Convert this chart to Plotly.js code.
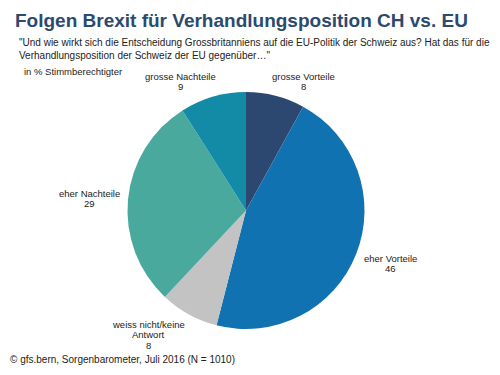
<!DOCTYPE html>
<html><head><meta charset="utf-8">
<script src="https://cdn.plot.ly/plotly-3.0.1.min.js"></script>
<style>html,body{margin:0;padding:0;background:#fff}#c{width:500px;height:375px}</style>
</head><body><div id="c"></div>
<script>
const categories = ["grosse Vorteile", "eher Vorteile", "weiss nicht/keine<br>Antwort", "eher Nachteile", "grosse Nachteile"];
const values = [8, 46, 8, 29, 9];
const colors = ["#2c4770", "#1072b0", "#c3c3c3", "#4aa99d", "#138aa6"];
const labelPos = [[303, 76], [390, 258], [148, 324], [89, 193], [180, 76]];

const F = "Liberation Sans, Arial, sans-serif";
const annotations = [];
categories.forEach((c, i) => {
  const lines = c.split("<br>").concat([String(values[i])]);
  lines.forEach((t, k) => annotations.push({
    xref: "paper", yref: "paper", x: labelPos[i][0] / 500, y: 1 - (labelPos[i][1] + k * 10.5) / 375,
    xanchor: "center", yanchor: "middle", showarrow: false, borderpad: 0,
    text: t, font: {family: F, size: 9.5, color: "#222"}
  }));
});
annotations.push({xref: "paper", yref: "paper", x: 17/500, y: 1 - 35/375, xanchor: "left", yanchor: "top", showarrow: false, align: "left",
  text: "\"Und wie wirkt sich die Entscheidung Grossbritanniens auf die EU-Politik der Schweiz aus? Hat das für die<br>Verhandlungsposition der Schweiz der EU gegenüber…\"",
  font: {family: F, size: 10, color: "#222"}});
annotations.push({xref: "paper", yref: "paper", x: 22/500, y: 1 - 64/375, xanchor: "left", yanchor: "top", showarrow: false,
  text: "in % Stimmberechtigter", font: {family: F, size: 9.5, color: "#222"}});
annotations.push({xref: "paper", yref: "paper", x: 9/500, y: 1 - 359/375, xanchor: "left", yanchor: "middle", showarrow: false, borderpad: 0,
  text: "© gfs.bern, Sorgenbarometer, Juli 2016 (N = 1010)", font: {family: F, size: 10, color: "#222"}});

Plotly.newPlot("c", [{
  type: "pie", labels: categories, values: values, sort: false, direction: "clockwise", rotation: 0,
  marker: {colors: colors, line: {width: 0}}, textinfo: "none", hoverinfo: "label+value",
  domain: {x: [127/500, 365/500], y: [1 - 329/375, 1 - 92/375]}
}], {
  width: 500, height: 375, margin: {l: 0, r: 0, t: 0, b: 0}, showlegend: false,
  paper_bgcolor: "#fff",
  title: {text: "<b>Folgen Brexit für Verhandlungsposition CH vs. EU</b>", x: 15/500, xanchor: "left", y: 1 - 20/375, yanchor: "middle",
    font: {family: F, size: 19, color: "#2c4a6e"}},
  annotations: annotations
}, {displayModeBar: false, staticPlot: true});
</script></body></html>
